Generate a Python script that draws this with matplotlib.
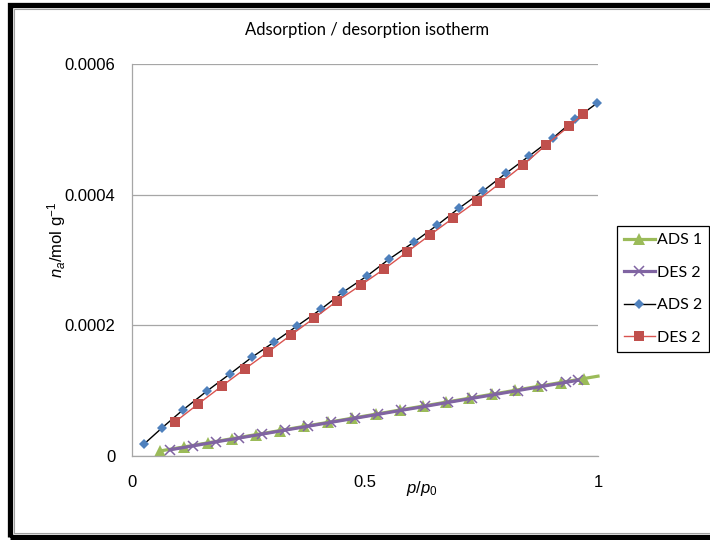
import matplotlib
matplotlib.use('Agg')
import matplotlib.pyplot as plt
from matplotlib.patches import Rectangle

plt.rcParams['font.family'] = ['Liberation Sans', 'DejaVu Sans']
plt.rcParams['mathtext.fontset'] = 'custom'
plt.rcParams['mathtext.rm'] = 'Liberation Sans'
plt.rcParams['mathtext.it'] = 'Liberation Sans:italic'

# ADS 1 (green triangles) - last point has no visible marker
ads1_p = [0.060, 0.112, 0.163, 0.215, 0.266, 0.318, 0.369, 0.421, 0.472, 0.524,
          0.575, 0.624, 0.674, 0.723, 0.772, 0.822, 0.871, 0.920, 0.970, 1.000]
ads1_n = [7.7e-6, 1.39e-5, 2.02e-5, 2.65e-5, 3.27e-5, 3.90e-5, 4.53e-5, 5.15e-5,
          5.78e-5, 6.41e-5, 7.04e-5, 7.63e-5, 8.24e-5, 8.84e-5, 9.44e-5, 1.005e-4,
          1.065e-4, 1.125e-4, 1.186e-4, 1.222e-4]

# DES 2 (purple crosses)
des1_p = [0.082, 0.131, 0.180, 0.230, 0.279, 0.328, 0.378, 0.427, 0.479, 0.528,
          0.577, 0.629, 0.678, 0.730, 0.779, 0.828, 0.880, 0.931, 0.957]
des1_n = [9.5e-6, 1.55e-5, 2.16e-5, 2.75e-5, 3.35e-5, 3.95e-5, 4.56e-5, 5.16e-5,
          5.78e-5, 6.38e-5, 6.98e-5, 7.60e-5, 8.20e-5, 8.83e-5, 9.42e-5, 1.002e-4,
          1.065e-4, 1.128e-4, 1.158e-4]

# ADS 2 (blue diamonds, black line)
ads2_p = [0.026, 0.064, 0.109, 0.161, 0.210, 0.258, 0.305, 0.354, 0.406, 0.453, 0.504,
          0.552, 0.605, 0.655, 0.702, 0.753, 0.803, 0.852, 0.903, 0.951, 0.998]
ads2_n = [1.84e-5, 4.28e-5, 7.04e-5, 9.95e-5, 1.255e-4, 1.515e-4, 1.744e-4, 1.989e-4,
          2.249e-4, 2.509e-4, 2.754e-4, 3.014e-4, 3.274e-4, 3.534e-4, 3.794e-4,
          4.055e-4, 4.330e-4, 4.590e-4, 4.865e-4, 5.156e-4, 5.401e-4]

# DES 2 (red squares)
des2_p = [0.092, 0.142, 0.193, 0.242, 0.292, 0.341, 0.391, 0.440, 0.491, 0.541,
          0.590, 0.639, 0.689, 0.740, 0.790, 0.839, 0.888, 0.938, 0.968]
des2_n = [5.20e-5, 7.96e-5, 1.071e-4, 1.331e-4, 1.591e-4, 1.851e-4, 2.111e-4, 2.372e-4,
          2.616e-4, 2.861e-4, 3.121e-4, 3.381e-4, 3.641e-4, 3.902e-4, 4.177e-4,
          4.452e-4, 4.758e-4, 5.049e-4, 5.233e-4]

x_ticks = [0, 0.5, 1]
x_ticklabels = ['0', '0.5', '1']
y_ticks = [0, 0.0002, 0.0004, 0.0006]
y_ticklabels = ['0', '0.0002', '0.0004', '0.0006']

fig = plt.figure(figsize=(7.1, 5.4), dpi=100)
ax = fig.add_axes([132 / 710, 1 - 456 / 540, (598 - 132) / 710, (456 - 64) / 540])

ax.plot(ads1_p, ads1_n, color='#9BBB59', lw=2.3, marker='^', ms=9, mew=0,
        markevery=list(range(len(ads1_p) - 1)), label='ADS 1', clip_on=False)
ax.plot(des1_p, des1_n, color='#8064A2', lw=2.3, marker='x', ms=7.5, mew=1.1,
        label='DES 2', clip_on=False)
ax.plot(ads2_p, ads2_n, color='black', lw=1.0, marker='D', ms=4.8, mew=0,
        mfc='#4F81BD', label='ADS 2', clip_on=False)
ax.plot(des2_p, des2_n, color='#D9534F', lw=1.0, marker='s', ms=6.8, mew=0,
        mfc='#C0504D', label='DES 2', clip_on=False)

ax.set_xlim(0, 1)
ax.set_ylim(0, 0.0006)
ax.set_xticks(x_ticks)
ax.set_xticklabels(x_ticklabels)
ax.set_yticks(y_ticks)
ax.set_yticklabels(y_ticklabels)
ax.tick_params(length=0, labelsize=12, pad=12)
ax.tick_params(axis='x', pad=14)
ax.yaxis.grid(True, color='#A6A6A6', lw=0.9)
ax.set_axisbelow(True)
for s in ['top', 'right']:
    ax.spines[s].set_visible(False)
for s in ['left', 'bottom']:
    ax.spines[s].set_color('#A6A6A6')
    ax.spines[s].set_linewidth(0.9)

fig.text(367 / 710, 1 - 30 / 540, 'Adsorption / desorption isotherm', ha='center',
         va='center', fontsize=12, family=['Lato', 'DejaVu Sans'])
fig.text(57 / 710, 1 - 240 / 540, r'$n_a$/mol g$^{-1}$', rotation=90, ha='center',
         va='center', fontsize=12)
fig.text(422 / 710, 1 - 488 / 540, r'$p/p_\mathrm{0}$', ha='center', va='center',
         fontsize=12)

leg = ax.legend(loc='upper left', bbox_to_anchor=(617 / 710, 1 - 226 / 540),
                bbox_transform=fig.transFigure, frameon=True, fancybox=False,
                edgecolor='black', framealpha=1, borderpad=0.45, labelspacing=1.15,
                handlelength=1.9, handletextpad=0.15, borderaxespad=0,
                prop={'family': ['Lato', 'DejaVu Sans'], 'size': 11.5})
leg.get_frame().set_linewidth(0.9)

# chart area border
fig.patches.append(Rectangle((9.5 / 710, 3 / 540), 1.2, 532 / 540, transform=fig.transFigure,
                             fill=False, edgecolor='black', lw=3.8, zorder=5))
fig.patches.append(Rectangle((13.5 / 710, 7 / 540), 1.2, 524 / 540, transform=fig.transFigure,
                             fill=False, edgecolor='#A0A0A0', lw=0.8, zorder=5))

fig.savefig('out.png', dpi=100)
